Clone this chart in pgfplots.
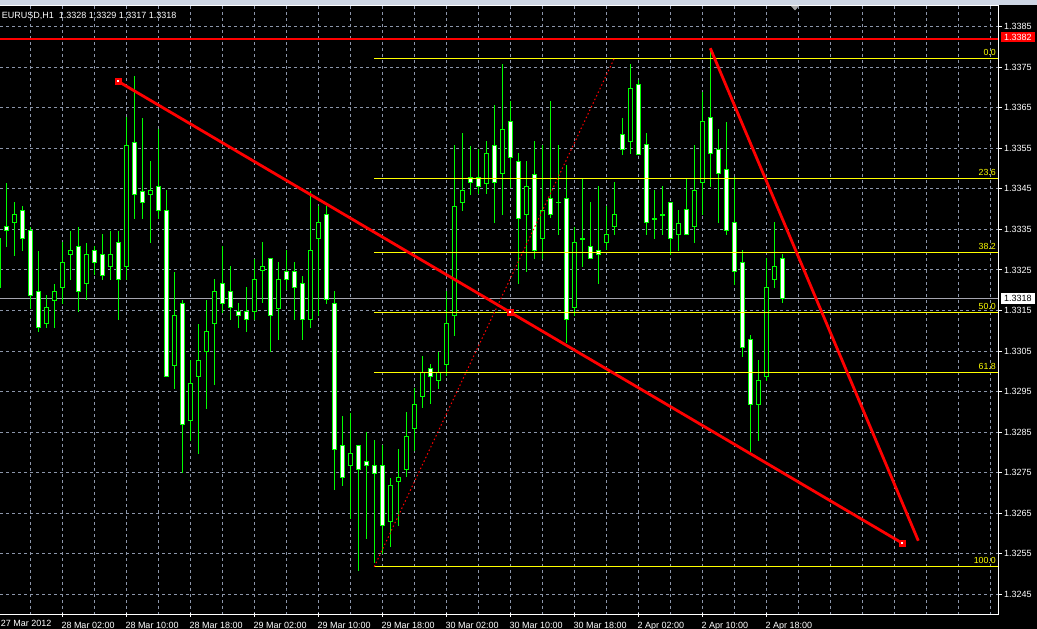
\documentclass[border=0pt]{standalone}
\usepackage{fontspec}
\setmainfont{Liberation Sans}
\usepackage{pgfplots}
\pgfplotsset{compat=1.18}
\usepackage{pgfplotstable}
\definecolor{cgreen}{RGB}{0,255,0}
\definecolor{cred}{RGB}{255,0,0}
\definecolor{cyel}{RGB}{255,255,0}
\definecolor{cgrid}{RGB}{140,150,170}
\definecolor{cbid}{RGB}{165,165,175}
\definecolor{ctop}{RGB}{206,214,228}

% bearish candles (white bodies): index, open, high, low, close
\pgfplotstableread{
k O H L C
0 1.33358 1.33467 1.33308 1.33348
2 1.33397 1.33408 1.33297 1.33327
3 1.33347 1.33358 1.33154 1.33188
4 1.33198 1.33299 1.33098 1.33109
9 1.33309 1.33358 1.33148 1.33198
11 1.33299 1.33309 1.33238 1.33269
12 1.33289 1.33339 1.33227 1.33237
14 1.33318 1.33348 1.33128 1.33227
16 1.33567 1.33729 1.33376 1.33437
17 1.33446 1.33627 1.33376 1.33417
19 1.33456 1.33598 1.33376 1.33397
20 1.33397 1.33447 1.32988 1.32988
22 1.33168 1.33177 1.32749 1.32869
27 1.33217 1.33309 1.33145 1.33168
28 1.33198 1.33260 1.33127 1.33157
29 1.33148 1.33168 1.33108 1.33138
30 1.33148 1.33208 1.33098 1.33128
33 1.33279 1.33279 1.33049 1.33138
35 1.33247 1.33299 1.33201 1.33227
36 1.33247 1.33270 1.33127 1.33207
37 1.33217 1.33237 1.33077 1.33128
40 1.33387 1.33408 1.33168 1.33178
41 1.33168 1.33198 1.32708 1.32808
42 1.32818 1.32889 1.32718 1.32739
44 1.32818 1.32818 1.32508 1.32758
45 1.32778 1.32850 1.32587 1.32768
46 1.32768 1.32830 1.32527 1.32749
47 1.32768 1.32820 1.32551 1.32620
53 1.33007 1.33018 1.32919 1.32989
58 1.33478 1.33558 1.33437 1.33466
59 1.33478 1.33548 1.33437 1.33457
61 1.33558 1.33657 1.33367 1.33466
63 1.33617 1.33667 1.33452 1.33528
64 1.33518 1.33538 1.33215 1.33377
66 1.33487 1.33568 1.33278 1.33299
68 1.33426 1.33667 1.33377 1.33387
70 1.33426 1.33509 1.33069 1.33128
73 1.33308 1.33418 1.33279 1.33279
74 1.33298 1.33457 1.33215 1.33289
77 1.33586 1.33627 1.33536 1.33548
79 1.33708 1.33721 1.33536 1.33537
80 1.33558 1.33588 1.33336 1.33367
83 1.33418 1.33418 1.33288 1.33327
85 1.33398 1.33478 1.33337 1.33338
88 1.33627 1.33793 1.33456 1.33538
89 1.33548 1.33598 1.33367 1.33488
90 1.33498 1.33617 1.33337 1.33348
91 1.33367 1.33480 1.33214 1.33247
92 1.33269 1.33299 1.33036 1.33059
93 1.33079 1.33090 1.32802 1.32919
97 1.33280 1.33290 1.33170 1.33180
}\bear

% bullish candles (black bodies): index, open, high, low, close
\pgfplotstableread{
k O H L C
-1 1.33207 1.33328 1.33207 1.33328
1 1.33367 1.33418 1.33287 1.33388
5 1.33118 1.33188 1.33108 1.33158
6 1.33177 1.33217 1.33108 1.33198
7 1.33206 1.33320 1.33167 1.33269
8 1.33289 1.33348 1.33226 1.33299
10 1.33217 1.33318 1.33177 1.33289
13 1.33258 1.33348 1.33226 1.33289
15 1.33258 1.33629 1.33227 1.33558
18 1.33437 1.33519 1.33317 1.33447
21 1.33016 1.33247 1.32957 1.33138
23 1.32879 1.33028 1.32829 1.32969
24 1.32987 1.33118 1.32796 1.33027
25 1.33049 1.33177 1.32907 1.33099
26 1.33118 1.33228 1.32967 1.33198
31 1.33148 1.33279 1.33127 1.33227
32 1.33248 1.33319 1.33168 1.33259
34 1.33157 1.33270 1.33077 1.33227
38 1.33128 1.33447 1.33108 1.33299
39 1.33328 1.33408 1.33138 1.33367
43 1.32768 1.32899 1.32637 1.32798
48 1.32630 1.32739 1.32568 1.32719
49 1.32729 1.32809 1.32619 1.32739
50 1.32758 1.32900 1.32739 1.32840
51 1.32860 1.32959 1.32804 1.32919
52 1.32938 1.33038 1.32909 1.32998
54 1.32978 1.33049 1.32958 1.32998
55 1.33018 1.33200 1.32989 1.33118
56 1.33138 1.33558 1.33088 1.33407
57 1.33417 1.33588 1.33396 1.33447
60 1.33466 1.33568 1.33437 1.33538
62 1.33487 1.33758 1.33386 1.33597
65 1.33387 1.33519 1.33246 1.33457
67 1.33328 1.33560 1.33278 1.33396
69 1.33417 1.33558 1.33336 1.33417
71 1.33158 1.33357 1.33138 1.33317
72 1.33328 1.33478 1.33258 1.33328
75 1.33318 1.33408 1.33298 1.33338
76 1.33357 1.33467 1.33337 1.33387
78 1.33566 1.33758 1.33536 1.33698
81 1.33377 1.33447 1.33327 1.33377
82 1.33387 1.33457 1.33337 1.33387
84 1.33338 1.33398 1.33298 1.33367
86 1.33357 1.33558 1.33317 1.33447
87 1.33466 1.33690 1.33386 1.33617
94 1.32919 1.33028 1.32829 1.32978
95 1.32987 1.33280 1.32977 1.33207
96 1.33227 1.33368 1.33207 1.33259
}\bull

\pgfplotsset{
  wick/.style={draw=none, mark=none, forget plot,
    error bars/.cd, y dir=both, y explicit, error mark=none,
    error bar style={draw=cgreen, line width=1pt}},
  bodyout/.style={draw=none, mark=none, forget plot,
    error bars/.cd, y dir=both, y explicit, error mark=none,
    error bar style={draw=cgreen, line width=5pt}},
  bodyin/.style={draw=none, mark=none, forget plot,
    error bars/.cd, y dir=both, y explicit, error mark=none,
    error bar style={draw=#1, line width=3pt}},
  fib/.style={draw=cyel, color=cyel, line width=1pt, forget plot},
}

\begin{document}
\begin{tikzpicture}[x=1pt,y=1pt]
\useasboundingbox (0,0) rectangle (1037,629);
\fill[black] (0,0) rectangle (1037,629);
\fill[ctop] (0,623.5) rectangle (1037,629);
\begin{axis}[
  at={(0pt,14pt)}, anchor=south west,
  scale only axis, width=998pt, height=609pt,
  xmin=-0.7875, xmax=123.9625,
  ymin=1.3239884, ymax=1.3390106,
  clip=false,
  axis line style={draw=none},
  xtick={7,15,23,31,39,47,55,63,71,79,87,95},
  xticklabels={28 Mar 02:00,28 Mar 10:00,28 Mar 18:00,29 Mar 02:00,29 Mar 10:00,29 Mar 18:00,30 Mar 02:00,30 Mar 10:00,30 Mar 18:00,2 Apr 02:00,2 Apr 10:00,2 Apr 18:00},
  minor xtick={3,7,...,123},
  ytick={1.3245,1.3255,1.3265,1.3275,1.3285,1.3295,1.3305,1.3315,1.3325,1.3335,1.3345,1.3355,1.3365,1.3375,1.3385},
  yticklabels={1.3245,1.3255,1.3265,1.3275,1.3285,1.3295,1.3305,1.3315,1.3325,1.3335,1.3345,1.3355,1.3365,1.3375,1.3385},
  xtick pos=left, ytick pos=right,
  xticklabel pos=left, yticklabel pos=right,
  xtick align=center, ytick align=outside,
  major tick length=4pt, minor tick length=0pt,
  tick style={white, line width=1pt},
  xmajorgrids=false, xminorgrids=true, ymajorgrids=true,
  major grid style={cgrid, line width=1pt, dash pattern=on 3pt off 3pt},
  minor grid style={cgrid, line width=1pt, dash pattern=on 3pt off 3pt},
  ticklabel style={font=\fontsize{9}{10}\selectfont, text=white, inner sep=0pt},
  xticklabel style={anchor=north west, xshift=-1pt, yshift=-5.5pt},
  yticklabel style={anchor=west, xshift=2pt},
]
% bid line
\addplot[draw=cbid, line width=1pt, forget plot] coordinates {(-0.7875,1.3318) (123.9625,1.3318)};

% candles
\addplot[wick] table[x=k, y expr={(\thisrow{H}+\thisrow{L})/2}, y error expr={(\thisrow{H}-\thisrow{L})/2}] {\bear};
\addplot[wick] table[x=k, y expr={(\thisrow{H}+\thisrow{L})/2}, y error expr={(\thisrow{H}-\thisrow{L})/2}] {\bull};
\addplot[bodyout] table[x=k, y expr={(\thisrow{O}+\thisrow{C})/2}, y error expr={abs(\thisrow{O}-\thisrow{C})/2+0.0000123}] {\bear};
\addplot[bodyout] table[x=k, y expr={(\thisrow{O}+\thisrow{C})/2}, y error expr={abs(\thisrow{O}-\thisrow{C})/2+0.0000123}] {\bull};
\addplot[bodyin=white] table[x=k, y expr={(\thisrow{O}+\thisrow{C})/2}, y error expr={max(abs(\thisrow{O}-\thisrow{C})/2-0.0000123,0)}] {\bear};
\addplot[bodyin=black] table[x=k, y expr={(\thisrow{O}+\thisrow{C})/2}, y error expr={max(abs(\thisrow{O}-\thisrow{C})/2-0.0000123,0)}] {\bull};

% Fibonacci levels
\addplot[fib] coordinates {(46,1.33772) (123.9625,1.33772)};
\addplot[fib] coordinates {(46,1.33476) (123.9625,1.33476)};
\addplot[fib] coordinates {(46,1.33293) (123.9625,1.33293)};
\addplot[fib] coordinates {(46,1.33145) (123.9625,1.33145)};
\addplot[fib] coordinates {(46,1.32997) (123.9625,1.32997)};
\addplot[fib] coordinates {(46,1.32518) (123.9625,1.32518)};
\begin{scope}[every node/.style={anchor=south east, inner sep=0pt, text=cyel, font=\fontsize{8.8}{10}\selectfont, yshift=2.5pt}]
\node at (axis cs:123.71,1.33772) {0.0};
\node at (axis cs:123.71,1.33476) {23.6};
\node at (axis cs:123.71,1.33293) {38.2};
\node at (axis cs:123.71,1.33145) {50.0};
\node at (axis cs:123.71,1.32997) {61.8};
\node at (axis cs:123.71,1.32518) {100.0};
\end{scope}

% fib trend (dotted)
\addplot[draw=cred, line width=1pt, dash pattern=on 1.5pt off 2.5pt, forget plot] coordinates {(46,1.32518) (76,1.33772)};

% horizontal red line
\addplot[draw=cred, line width=2pt, forget plot] coordinates {(-0.7875,1.3382) (123.9625,1.3382)};

% trend lines
\addplot[draw=cred, line width=2.8pt, mark=square*, mark size=3pt, mark options={solid, fill=cred, draw=cred, line width=0pt}, forget plot] coordinates {(14,1.33715) (63,1.331455) (112,1.32576)};
\addplot[only marks, mark=square*, mark size=0.5pt, mark options={fill=white, draw=white, line width=0pt}, forget plot] coordinates {(14,1.33715) (63,1.331455) (112,1.32576)};
\addplot[draw=cred, line width=2.8pt, forget plot] coordinates {(88,1.33797) (114,1.32582)};

% first date label (its tick lies just left of the plot)
\node[anchor=north west, inner sep=0pt, text=white, font=\fontsize{9}{10}\selectfont, yshift=-5.5pt] at (axis cs:-0.7,1.3239884) {27 Mar 2012};

% frame
\draw[white, line width=1pt] (rel axis cs:0,1) -- (rel axis cs:1,1) -- (rel axis cs:1,0) -- (rel axis cs:0,0);
\end{axis}

% price labels on the scale
\fill[cred] (1001,586.7) rectangle (1035,596.7);
\node[anchor=west, inner sep=0pt, text=white, font=\fontsize{9}{10}\selectfont] at (1004,591.7) {1.3382};
\fill[white] (1001,325) rectangle (1035,335.7);
\node[anchor=west, inner sep=0pt, text=black, font=\fontsize{9}{10}\selectfont] at (1004,330.4) {1.3318};

% title
\node[anchor=base west, inner sep=0pt, text=white, font=\fontsize{9}{10}\selectfont] at (1.7,610.7) {EURUSD,H1\ \ 1.3328 1.3329 1.3317 1.3318};
% shift marker
\fill[gray!70] (791,623) -- (799,623) -- (795,618.5) -- cycle;
\end{tikzpicture}
\end{document}
